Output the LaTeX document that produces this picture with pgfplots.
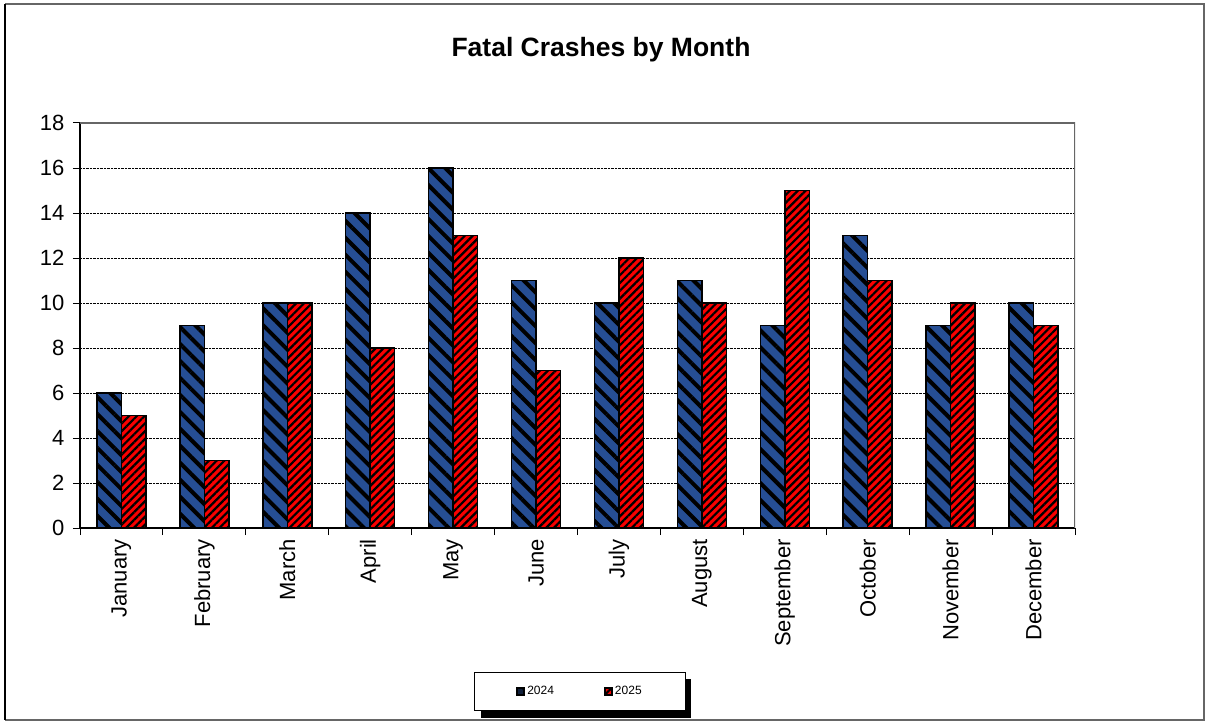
\documentclass[border=0pt]{standalone}
\usepackage{pgfplots}
\pgfplotsset{compat=1.18}
\usepackage{fontspec}
\setmainfont{Liberation Sans}
\usetikzlibrary{patterns.meta}
\definecolor{barblue}{RGB}{38,78,148}
\definecolor{barred}{RGB}{250,0,0}
\begin{document}
\begin{tikzpicture}[x=1pt,y=1pt]
\useasboundingbox (0,0) rectangle (1207,724);
\draw[gray!80!black, line width=2pt] (5,720) -- (1204,720) -- (1204,4) -- (5,4);
\draw[black, line width=2pt] (5,720) -- (5,4);
\node[font=\bfseries\fontsize{26.5}{30}\selectfont] at (601,674) {Fatal Crashes by Month};
% legend shadow
\fill[black] (481,6) rectangle (691,45);
\begin{axis}[
  at={(80pt,196pt)}, anchor=south west,
  width=995pt, height=405pt, scale only axis,
  ybar=0pt, bar width=24.5pt,
  xmin=0.5, xmax=12.5, ymin=0, ymax=18,
  ytick={0,2,...,18},
  xtick={0.5,1.5,...,12.5},
  x tick label as interval=true,
  xticklabels={January,February,March,April,May,June,July,August,September,October,November,December},
  xticklabel style={rotate=90, anchor=east, inner sep=4pt},
  yticklabel style={xshift=-5pt},
  tick label style={font=\fontsize{22}{26}\selectfont},
  /pgf/number format/assume math mode=true,
  axis x line*=bottom, axis y line*=left,
  axis line style={-, black, line width=1.5pt},
  tick align=outside,
  major tick length=7pt,
  tick style={black, line width=1pt},
  ymajorgrids,
  grid style={densely dotted, black, line width=0.8pt},
  legend style={at={(0.5025,-0.4035)}, anchor=center, draw=black, fill=white,
    line width=0.8pt,
    legend columns=2, font=\fontsize{12}{14}\selectfont,
    inner xsep=42pt, inner ysep=12.5pt,
    /tikz/every even column/.append style={column sep=48pt}},
  legend cell align=left,
]
\addplot[draw=black, line width=1.5pt, fill=barblue,
  postaction={pattern={Lines[angle=-45,distance=12pt,line width=4pt]}, pattern color=black},
  legend image code/.code={\draw[fill=barblue!40!black, draw=black, line width=2pt] (0pt,-3.5pt) rectangle (7pt,3.5pt);}]
  coordinates {(1,6) (2,9) (3,10) (4,14) (5,16) (6,11) (7,10) (8,11) (9,9) (10,13) (11,9) (12,10)};
\addplot[draw=black, line width=1.5pt, fill=barred,
  postaction={pattern={Lines[angle=45,distance=5.5pt,line width=2.2pt]}, pattern color=black},
  legend image code/.code={\draw[fill=barred, draw=black, line width=2pt] (0pt,-3.5pt) rectangle (7pt,3.5pt);}]
  coordinates {(1,5) (2,3) (3,10) (4,8) (5,13) (6,7) (7,12) (8,10) (9,15) (10,11) (11,10) (12,9)};
\legend{2024,2025}
\draw[gray!80!black, line width=2.5pt] (rel axis cs:0,1) -- (rel axis cs:1,1) -- (rel axis cs:1,0);
\end{axis}
\end{tikzpicture}
\end{document}
